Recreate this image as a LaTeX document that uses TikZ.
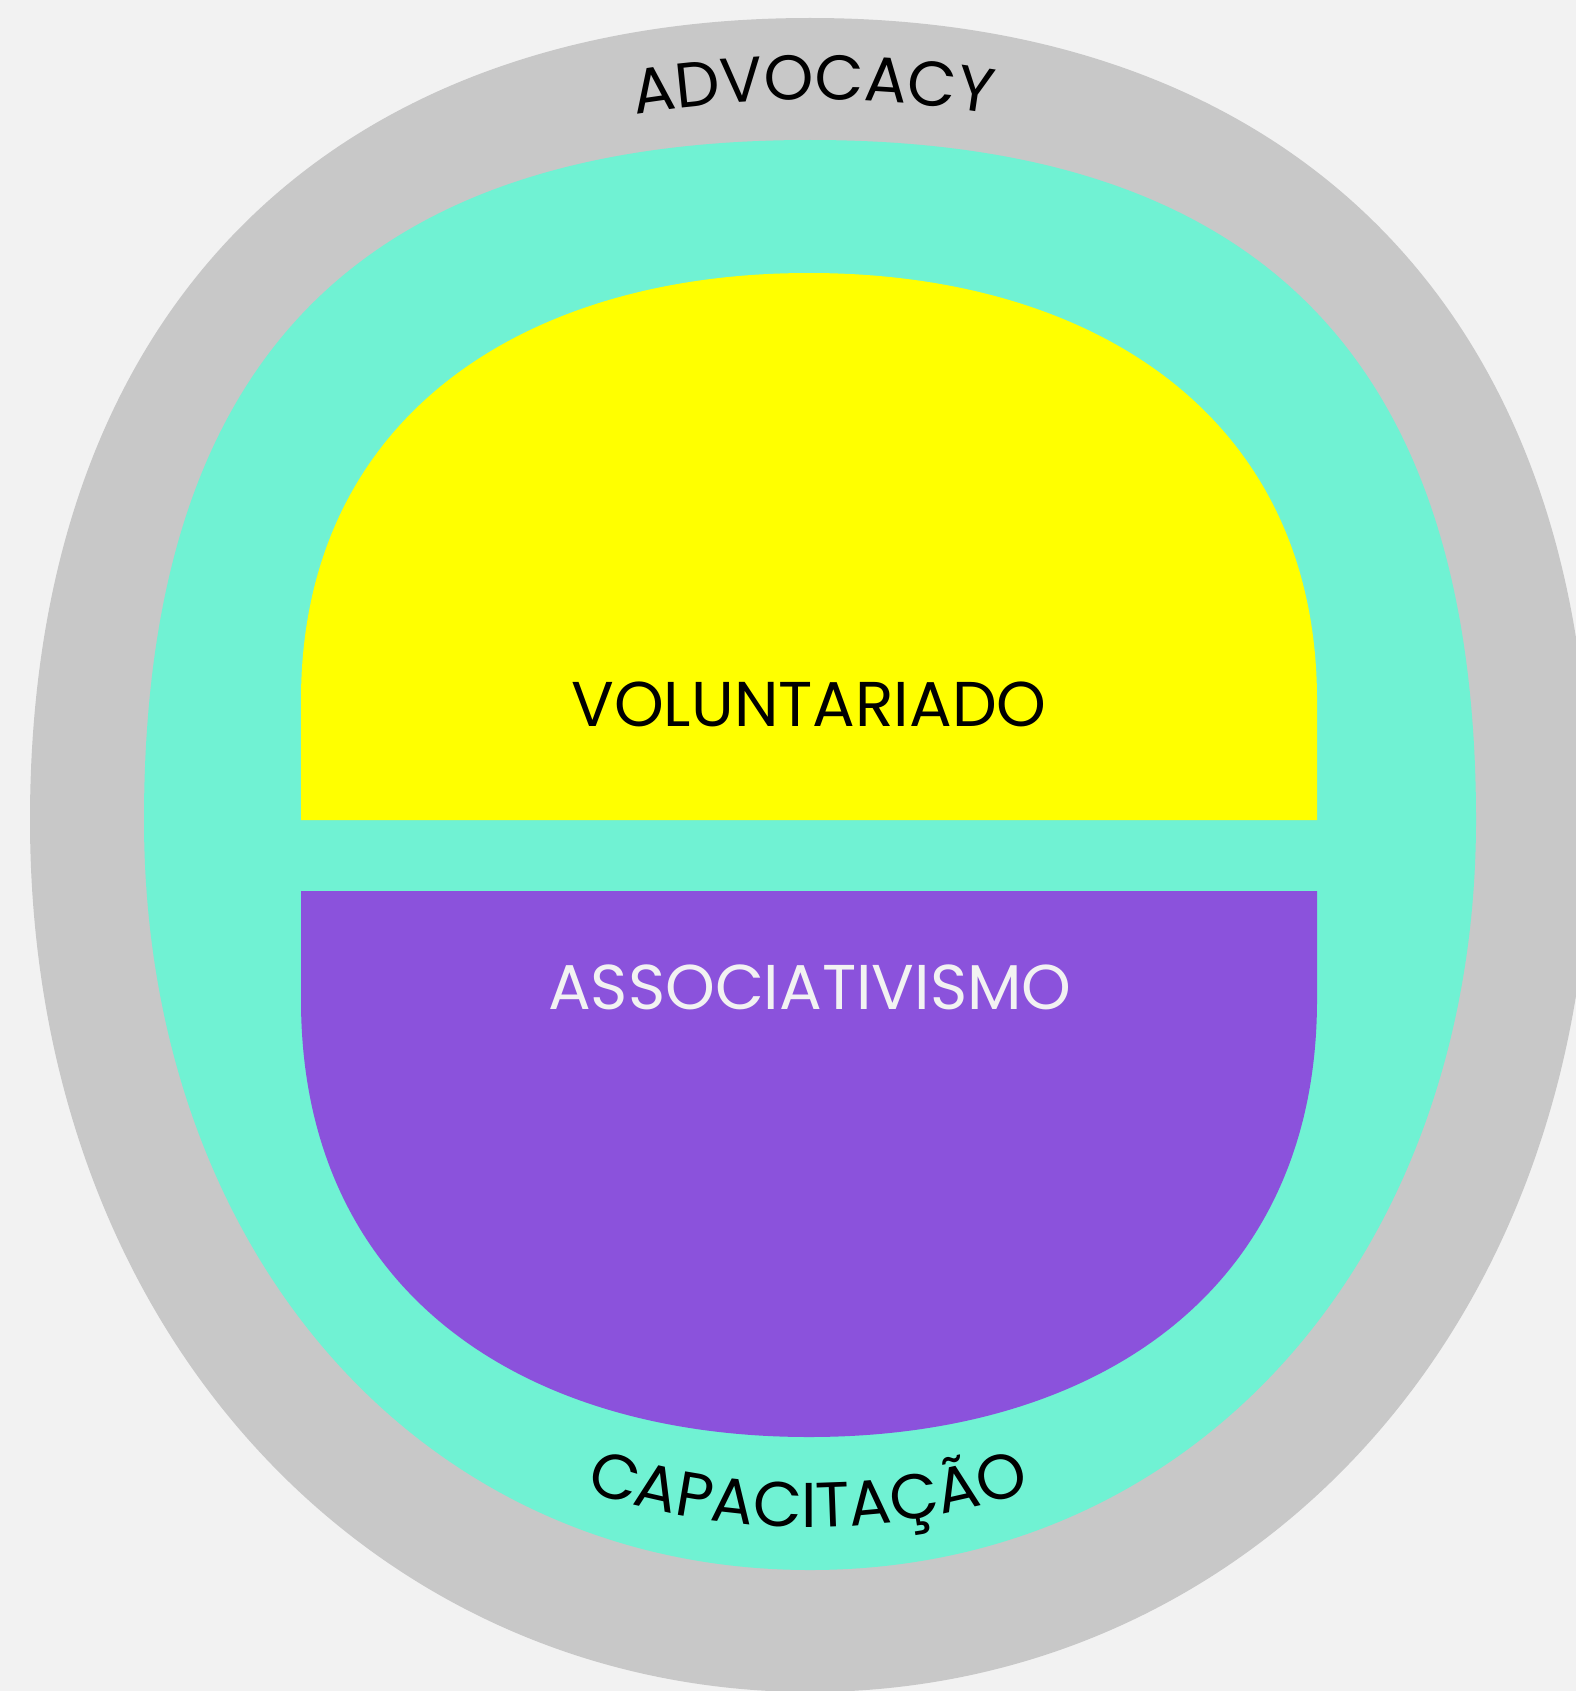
\documentclass[tikz,border=0pt]{standalone}
\usepackage{fontspec}
\usepackage{xcolor}
\usepackage{tikz}
\usetikzlibrary{decorations.text}
\newfontfamily\labelfont{Poppins}
\definecolor{backcol}{HTML}{F2F2F2}
\definecolor{advgray}{HTML}{C8C8C8}
\definecolor{capturq}{HTML}{70F2D3}
\definecolor{volyellow}{HTML}{FFFF00}
\definecolor{asspurple}{HTML}{8B52DC}
\newcommand{\labelsize}{\labelfont\fontsize{18}{20}\selectfont}
\newcommand{\arclabel}[6]{  % 2 center x-y, radius, 2 angles, text
        \path[decorate, decoration={text along path, text align=center,
                text={|\labelsize|#6}}]
            (#1,#2) ++(#4:#3) arc[start angle=#4, end angle=#5, radius=#3];
}

\begin{document}
\begin{tikzpicture}[x=0.01cm, y=0.01cm]
		\useasboundingbox (0,0) rectangle (1576,-1691);
		\clip (0,0) rectangle (1576,-1691);
		\fill[backcol] (0,0) rectangle (1576,-1691);
		% advocacy ring
		\fill[advgray] (30,-820) .. controls (30,-300) and (340,-18) .. (810,-18)
			.. controls (1280,-18) and (1590,-300) .. (1590,-820)
			.. controls (1590,-1340) and (1240,-1692) .. (810,-1692)
			.. controls (380,-1692) and (30,-1340) .. cycle;
		% capacitacao ring
		\fill[capturq] (144,-820) .. controls (144,-360) and (360,-140) .. (810,-140)
			.. controls (1260,-140) and (1476,-360) .. (1476,-820)
			.. controls (1476,-1250) and (1200,-1570) .. (810,-1570)
			.. controls (420,-1570) and (144,-1250) .. cycle;
		% upper and lower halves
		\fill[volyellow] (301,-820) -- (301,-700) .. controls (301,-420) and (520,-273) .. (809,-273)
			.. controls (1098,-273) and (1317,-420) .. (1317,-700) -- (1317,-820) -- cycle;
		\fill[asspurple] (301,-891) -- (301,-1000) .. controls (301,-1290) and (520,-1437) .. (809,-1437)
			.. controls (1098,-1437) and (1317,-1290) .. (1317,-1000) -- (1317,-891) -- cycle;
		% labels
		\node[anchor=base, text=black, font=\labelsize] (vol) at (809,-726) {VOLUNTARIADO};
		\node[anchor=base, text=backcol, font=\labelsize] (assoc) at (810,-1009) {ASSOCIATIVISMO};
		\arclabel{813}{-1200}{1100}{110}{70}{ADVOCACY}
		\arclabel{808}{-827}{700}{240}{300}{CAPACITAÇÃO}
\end{tikzpicture}
\end{document}
